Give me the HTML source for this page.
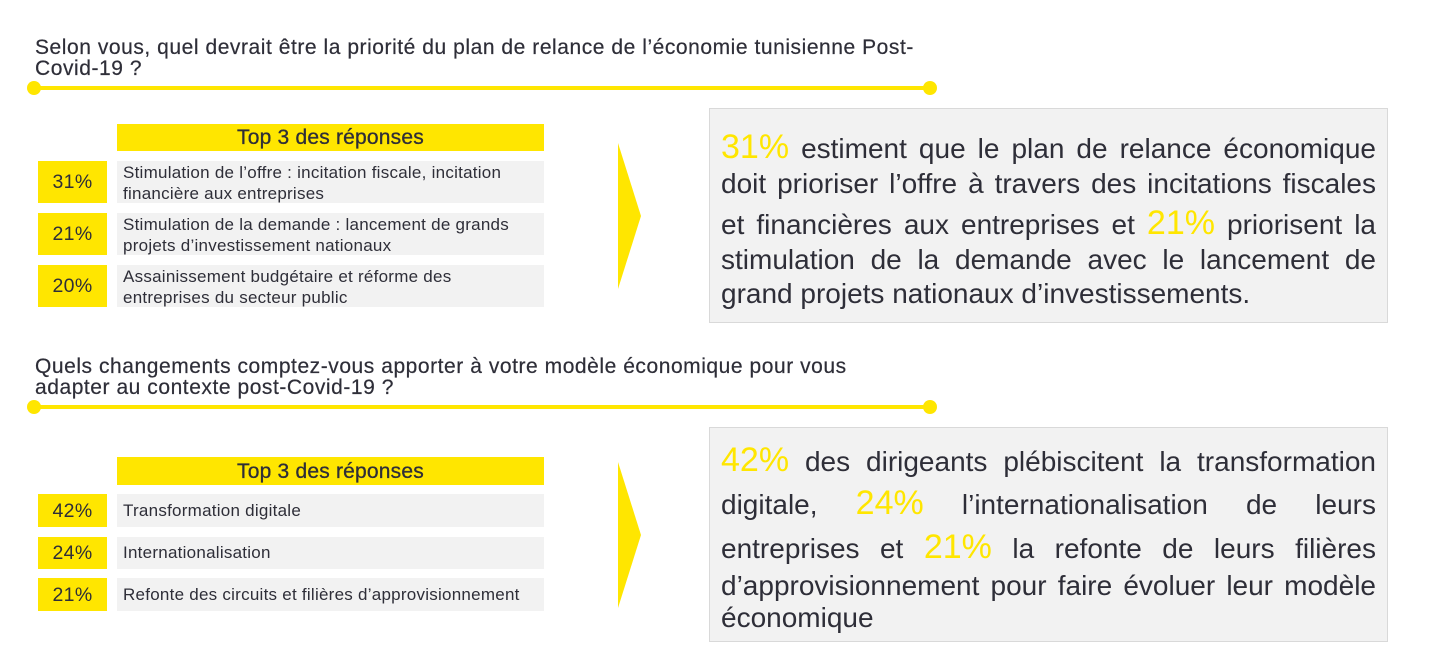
<!DOCTYPE html>
<html>
<head>
<meta charset="utf-8">
<style>
  html, body { margin:0; padding:0; background:#ffffff; }
  body { width:1435px; height:667px; position:relative; overflow:hidden;
         font-family:"Liberation Sans", sans-serif; color:#2e2e38; }
  .abs { position:absolute; }
  .title { position:absolute; left:35px; font-size:21px; line-height:21px; letter-spacing:0.55px; white-space:nowrap; color:#2e2e38; -webkit-text-stroke:0.2px #2e2e38; }
  .rule { position:absolute; left:34px; width:896px; height:4px; background:#ffe600; }
  .dot { position:absolute; width:14px; height:14px; border-radius:50%; background:#ffe600; }
  .hdr { position:absolute; left:117px; width:427px; background:#ffe600; text-align:center;
         font-size:21px; letter-spacing:0.2px; -webkit-text-stroke:0.3px #2e2e38; color:#2e2e38; }
  .pct { position:absolute; left:38px; width:69px; background:#ffe600; text-align:center;
         font-size:19.5px; letter-spacing:0.3px; color:#2e2e38; }
  .row { position:absolute; left:117px; width:421px; padding-left:6px; background:#f2f2f2;
         font-size:17px; letter-spacing:0.25px; color:#2e2e38; white-space:nowrap; }
  .box { position:absolute; left:709px; width:677px; background:#f2f2f2; border:1px solid #d9d9d9; }
  .ln { position:absolute; left:721px; width:655px; font-size:28px; line-height:40px; height:40px;
        text-align:justify; text-align-last:justify; color:#2e2e38; }
  .ln.last { text-align:left; text-align-last:left; }
  .y { color:#ffe600; font-size:34px; line-height:0; }
</style>
</head>
<body>

<!-- ===== Section 1 ===== -->
<div class="title" style="top:37px;">Selon vous, quel devrait être la priorité du plan de relance de l’économie tunisienne Post-<br>Covid-19 ?</div>
<div class="rule" style="top:86px;"></div>
<div class="dot" style="left:27px; top:81px;"></div>
<div class="dot" style="left:923px; top:81px;"></div>

<div class="hdr" style="top:124px; height:27px; line-height:28px;">Top 3 des réponses</div>

<div class="pct" style="top:161px; height:42px; line-height:43px;">31%</div>
<div class="row" style="top:161px; height:42px; line-height:21px;"><div style="padding-top:1px;">Stimulation de l’offre : incitation fiscale, incitation<br>financière aux entreprises</div></div>

<div class="pct" style="top:213px; height:42px; line-height:43px;">21%</div>
<div class="row" style="top:213px; height:42px; line-height:21px;"><div style="padding-top:1px;">Stimulation de la demande : lancement de grands<br>projets d’investissement nationaux</div></div>

<div class="pct" style="top:265px; height:42px; line-height:43px;">20%</div>
<div class="row" style="top:265px; height:42px; line-height:21px;"><div style="padding-top:1px;">Assainissement budgétaire et réforme des<br>entreprises du secteur public</div></div>

<svg class="abs" style="left:0; top:0;" width="1435" height="667">
  <polygon points="618,143 641,216 618,289" fill="#ffe600"/>
  <polygon points="618,462 641,535 618,608" fill="#ffe600"/>
</svg>

<div class="box" style="top:108px; height:213px;"></div>
<div class="ln" style="top:129px;"><span class="y">31%</span> estiment que le plan de relance économique</div>
<div class="ln" style="top:164px;">doit prioriser l’offre à travers des incitations fiscales</div>
<div class="ln" style="top:205px;">et financières aux entreprises et <span class="y">21%</span> priorisent la</div>
<div class="ln" style="top:240px;">stimulation de la demande avec le lancement de</div>
<div class="ln last" style="top:274px;">grand projets nationaux d’investissements.</div>

<!-- ===== Section 2 ===== -->
<div class="title" style="top:356px;">Quels changements comptez-vous apporter à votre modèle économique pour vous<br>adapter au contexte post-Covid-19 ?</div>
<div class="rule" style="top:405px;"></div>
<div class="dot" style="left:27px; top:400px;"></div>
<div class="dot" style="left:923px; top:400px;"></div>

<div class="hdr" style="top:457px; height:28px; line-height:29px;">Top 3 des réponses</div>

<div class="pct" style="top:494px; height:33px; line-height:34px;">42%</div>
<div class="row" style="top:494px; height:33px; line-height:33px;">Transformation digitale</div>

<div class="pct" style="top:537px; height:32px; line-height:33px;">24%</div>
<div class="row" style="top:537px; height:32px; line-height:32px;">Internationalisation</div>

<div class="pct" style="top:578px; height:33px; line-height:34px;">21%</div>
<div class="row" style="top:578px; height:33px; line-height:33px;">Refonte des circuits et filières d’approvisionnement</div>

<div class="box" style="top:427px; height:213px;"></div>
<div class="ln" style="top:442px;"><span class="y">42%</span> des dirigeants plébiscitent la transformation</div>
<div class="ln" style="top:485px;">digitale, <span class="y">24%</span> l’internationalisation de leurs</div>
<div class="ln" style="top:529px;">entreprises et <span class="y">21%</span> la refonte de leurs filières</div>
<div class="ln" style="top:566px;">d’approvisionnement pour faire évoluer leur modèle</div>
<div class="ln last" style="top:598px;">économique</div>

</body>
</html>
